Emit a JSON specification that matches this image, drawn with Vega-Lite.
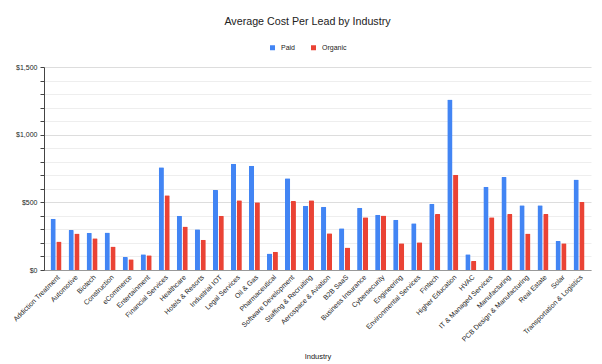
{
  "$schema": "https://vega.github.io/schema/vega-lite/v6.json",
  "width": 547,
  "height": 203,
  "autosize": "none",
  "padding": {"left": 44, "top": 67, "right": 11, "bottom": 94},
  "background": "white",
  "config": {
    "font": "Liberation Sans",
    "view": {"stroke": null}
  },
  "title": {
    "text": "Average Cost Per Lead by Industry",
    "fontSize": 10.7,
    "fontWeight": "normal",
    "color": "#222222",
    "anchor": "middle",
    "offset": 16,
    "dx": -10
  },
  "data": {
    "values": [
      {"industry": "Addiction Treatment", "type": "Paid", "value": 379},
      {"industry": "Addiction Treatment", "type": "Organic", "value": 210},
      {"industry": "Automotive", "type": "Paid", "value": 295},
      {"industry": "Automotive", "type": "Organic", "value": 270},
      {"industry": "Biotech", "type": "Paid", "value": 275},
      {"industry": "Biotech", "type": "Organic", "value": 235},
      {"industry": "Construction", "type": "Paid", "value": 277},
      {"industry": "Construction", "type": "Organic", "value": 173},
      {"industry": "eCommerce", "type": "Paid", "value": 96},
      {"industry": "eCommerce", "type": "Organic", "value": 79},
      {"industry": "Entertainment", "type": "Paid", "value": 116},
      {"industry": "Entertainment", "type": "Organic", "value": 109},
      {"industry": "Financial Services", "type": "Paid", "value": 760},
      {"industry": "Financial Services", "type": "Organic", "value": 552},
      {"industry": "Healthcare", "type": "Paid", "value": 401},
      {"industry": "Healthcare", "type": "Organic", "value": 322},
      {"industry": "Hotels & Resorts", "type": "Paid", "value": 302},
      {"industry": "Hotels & Resorts", "type": "Organic", "value": 223},
      {"industry": "Industrial IOT", "type": "Paid", "value": 592},
      {"industry": "Industrial IOT", "type": "Organic", "value": 401},
      {"industry": "Legal Services", "type": "Paid", "value": 785},
      {"industry": "Legal Services", "type": "Organic", "value": 515},
      {"industry": "Oil & Gas", "type": "Paid", "value": 770},
      {"industry": "Oil & Gas", "type": "Organic", "value": 500},
      {"industry": "Pharmaceutical", "type": "Paid", "value": 121},
      {"industry": "Pharmaceutical", "type": "Organic", "value": 134},
      {"industry": "Software Development", "type": "Paid", "value": 678},
      {"industry": "Software Development", "type": "Organic", "value": 510},
      {"industry": "Staffing & Recruiting", "type": "Paid", "value": 475},
      {"industry": "Staffing & Recruiting", "type": "Organic", "value": 515},
      {"industry": "Aerospace & Aviation", "type": "Paid", "value": 468},
      {"industry": "Aerospace & Aviation", "type": "Organic", "value": 272},
      {"industry": "B2B SaaS", "type": "Paid", "value": 309},
      {"industry": "B2B SaaS", "type": "Organic", "value": 166},
      {"industry": "Business Insurance", "type": "Paid", "value": 460},
      {"industry": "Business Insurance", "type": "Organic", "value": 389},
      {"industry": "Cybersecurity", "type": "Paid", "value": 408},
      {"industry": "Cybersecurity", "type": "Organic", "value": 403},
      {"industry": "Engineering", "type": "Paid", "value": 371},
      {"industry": "Engineering", "type": "Organic", "value": 198},
      {"industry": "Environmental Services", "type": "Paid", "value": 346},
      {"industry": "Environmental Services", "type": "Organic", "value": 205},
      {"industry": "Fintech", "type": "Paid", "value": 490},
      {"industry": "Fintech", "type": "Organic", "value": 413},
      {"industry": "Higher Education", "type": "Paid", "value": 1260},
      {"industry": "Higher Education", "type": "Organic", "value": 703},
      {"industry": "HVAC", "type": "Paid", "value": 116},
      {"industry": "HVAC", "type": "Organic", "value": 67},
      {"industry": "IT & Managed Services", "type": "Paid", "value": 616},
      {"industry": "IT & Managed Services", "type": "Organic", "value": 389},
      {"industry": "Manufacturing", "type": "Paid", "value": 688},
      {"industry": "Manufacturing", "type": "Organic", "value": 413},
      {"industry": "PCB Design & Manufacturing", "type": "Paid", "value": 478},
      {"industry": "PCB Design & Manufacturing", "type": "Organic", "value": 270},
      {"industry": "Real Estate", "type": "Paid", "value": 478},
      {"industry": "Real Estate", "type": "Organic", "value": 413},
      {"industry": "Solar", "type": "Paid", "value": 215},
      {"industry": "Solar", "type": "Organic", "value": 198},
      {"industry": "Transportation & Logistics", "type": "Paid", "value": 668},
      {"industry": "Transportation & Logistics", "type": "Organic", "value": 502}
    ]
  },
  "mark": {"type": "bar", "cornerRadiusTopLeft": 1, "cornerRadiusTopRight": 1},
  "encoding": {
    "x": {
      "field": "industry",
      "type": "nominal",
      "sort": null,
      "scale": {"paddingInner": 0.39, "paddingOuter": 0.36},
      "axis": {
        "title": "Industry",
        "titleFontSize": 7.5,
        "titleFontWeight": "normal",
        "titleColor": "#222222",
        "titleY": 82,
        "labelAngle": -45,
        "labelFontSize": 7,
        "labelColor": "#222222",
        "labelPadding": 3,
        "ticks": false,
        "domainColor": "#999999"
      }
    },
    "xOffset": {
      "field": "type",
      "type": "nominal",
      "sort": ["Paid", "Organic"],
      "scale": {"paddingInner": 0.1}
    },
    "y": {
      "field": "value",
      "type": "quantitative",
      "scale": {"domain": [0, 1500], "nice": false},
      "axis": {
        "title": null,
        "values": [0, 100, 200, 300, 400, 500, 600, 700, 800, 900, 1000, 1100, 1200, 1300, 1400, 1500],
        "labelExpr": "datum.value % 500 === 0 ? format(datum.value, '$,') : ''",
        "labelFontSize": 7,
        "labelColor": "#222222",
        "tickSize": 4,
        "tickColor": "#444444",
        "domainColor": "#444444",
        "gridColor": {"condition": {"test": "datum.value % 500 === 0", "value": "#dddddd"}, "value": "#eeeeee"},
        "labelPadding": 3
      }
    },
    "color": {
      "field": "type",
      "type": "nominal",
      "sort": ["Paid", "Organic"],
      "scale": {"domain": ["Paid", "Organic"], "range": ["#4285F4", "#EA4335"]},
      "legend": {
        "title": null,
        "orient": "none",
        "legendX": 225,
        "legendY": -23,
        "padding": 0,
        "direction": "horizontal",
        "symbolType": "square",
        "symbolSize": 25,
        "labelOffset": 5,
        "labelFontSize": 7,
        "labelColor": "#222222",
        "columnPadding": 14
      }
    }
  }
}
